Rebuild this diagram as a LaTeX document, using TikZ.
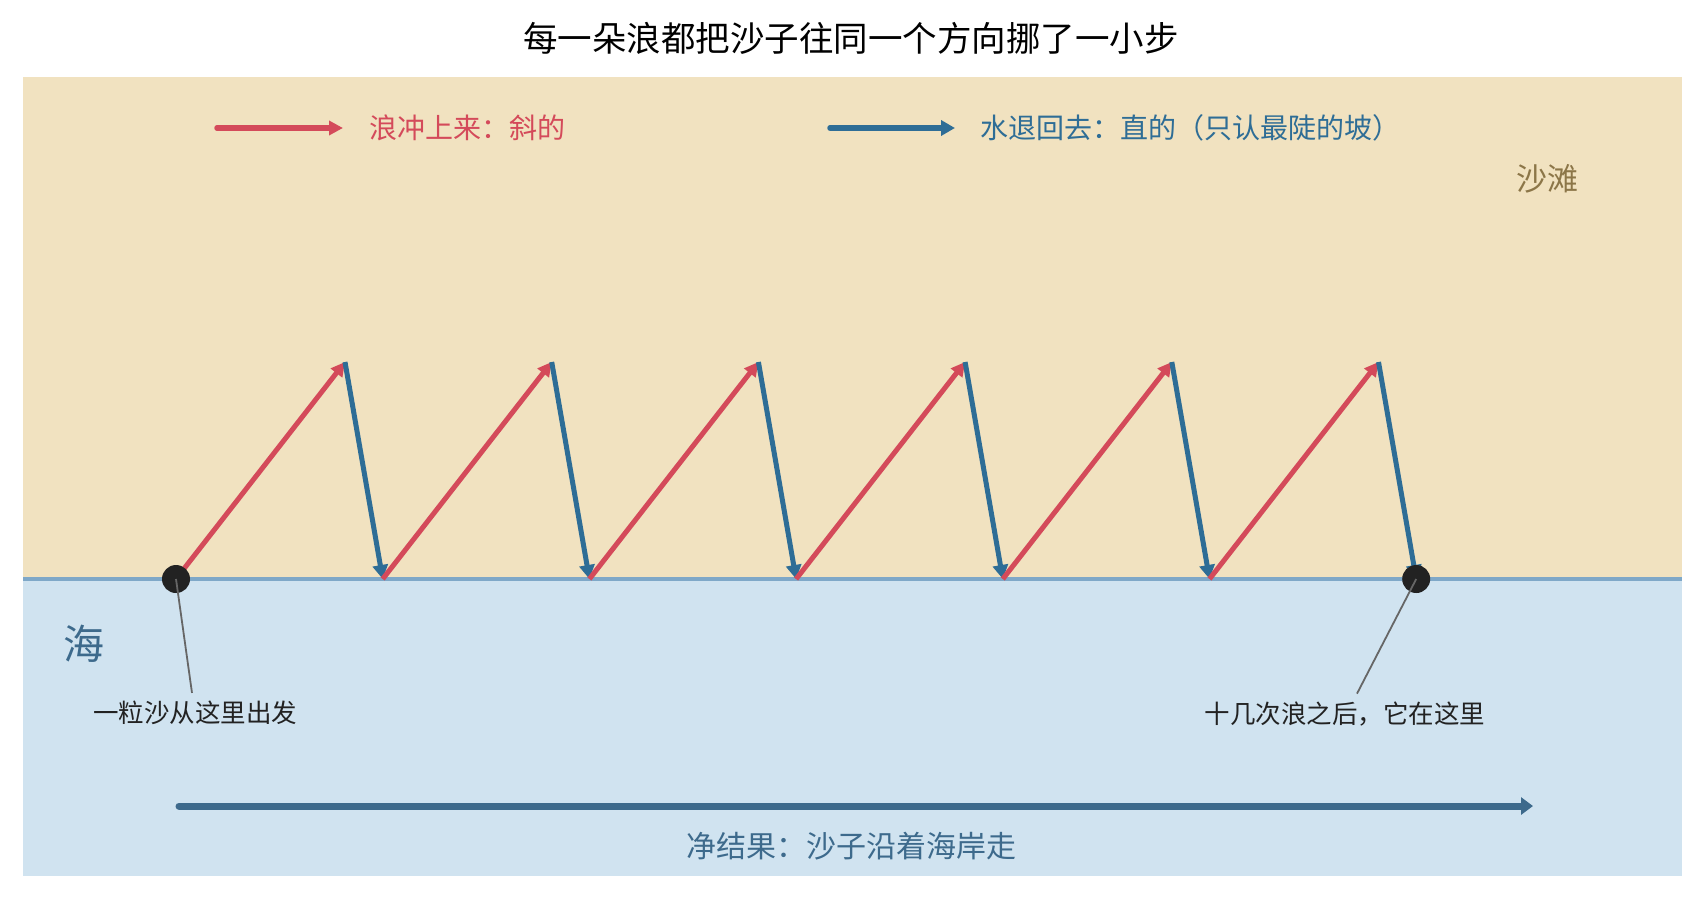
\documentclass[tikz,border=0pt]{standalone}
\usepackage{fontspec}
\setmainfont{Noto Sans CJK SC}
\usetikzlibrary{arrows.meta}
\definecolor{sand}{HTML}{F1E2C0}
\definecolor{sea}{HTML}{D0E3F0}
\definecolor{shore}{HTML}{7FA8C8}
\definecolor{swash}{HTML}{D44A5A}
\definecolor{backwash}{HTML}{2E6D96}
\definecolor{netblue}{HTML}{3D6A8C}
\definecolor{beachtxt}{HTML}{8C7648}
\definecolor{ink}{HTML}{222222}
\tikzset{
  up/.style={draw=swash, line width=5pt, -{Triangle[length=14pt,width=14pt]}},
  down/.style={draw=backwash, line width=5pt, -{Triangle[length=14pt,width=15pt]}},
  grain/.style={fill=ink, circle, inner sep=0pt, minimum size=28pt},
  leader/.style={draw=black!60, line width=1.8pt},
  note/.style={text=ink, font=\fontsize{25.5}{30}\selectfont, inner sep=3pt}
}

\begin{document}
\begin{tikzpicture}[x=1pt, y=-1pt]
  \useasboundingbox (0,0) rectangle (1705,899);
  % beach and sea
  \fill[sand] (23,77) rectangle (1682,579);
  \fill[sea] (23,579) rectangle (1682,876);
  \draw[shore, line width=4pt] (23,579) -- (1682,579);

  \node[font=\fontsize{34.5}{40}\selectfont, text=black] (title) at (851,38) {每一朵浪都把沙子往同一个方向挪了一小步};

  % legend
  \coordinate (swashA) at (217,128);
  \coordinate (swashB) at (343,128);
  \coordinate (backA) at (830,128);
  \coordinate (backB) at (955,128);
  \draw[up, line width=5.5pt, line cap=round] (swashA) -- (swashB);
  \node[anchor=west, text=swash, font=\fontsize{28}{32}\selectfont] (swashtxt) at (366,128) {浪冲上来：斜的};
  \draw[down, line width=5.5pt, line cap=round] (backA) -- (backB);
  \node[anchor=west, text=backwash, font=\fontsize{28}{32}\selectfont] (backtxt) at (977,128) {水退回去：直的（只认最陡的坡）};

  \node[text=beachtxt, font=\fontsize{31}{36}\selectfont] (beach) at (1547,179) {沙滩};
  \node[text=netblue, font=\fontsize{41}{46}\selectfont] (seatxt) at (84,644) {海};

  % zigzag path of the grain
  \foreach \i in {0,...,6}
    \coordinate (b\i) at ({176+206.7*\i},579);
  \foreach \i in {0,...,5}
    \coordinate (p\i) at ({345+206.7*\i},362);
  \foreach \i in {0,...,5} {
    \pgfmathtruncatemacro{\j}{\i+1}
    \draw[up] (b\i) -- (p\i);
    \draw[down] (p\i) -- (b\j);
  }

  \node[grain] (start) at (b0) {};
  \node[grain] (finish) at (b6) {};

  \node[note] (startlbl) at (195,713) {一粒沙从这里出发};
  \node[note] (finishlbl) at (1345,714) {十几次浪之后，它在这里};
  \draw[leader] (start.center) -- ([xshift=-3pt,yshift=5pt]startlbl.north);
  \draw[leader] (finish.center) -- ([xshift=12pt,yshift=5pt]finishlbl.north);

  % net drift
  \coordinate (netL) at (179,806);
  \coordinate (netR) at (1533,806);
  \draw[netblue, line width=7pt, line cap=round, -{Triangle[length=12pt,width=17pt]}] (netL) -- (netR);
  \node[text=netblue, font=\fontsize{30}{34}\selectfont] (nettxt) at (851,846) {净结果：沙子沿着海岸走};
\end{tikzpicture}
\end{document}
